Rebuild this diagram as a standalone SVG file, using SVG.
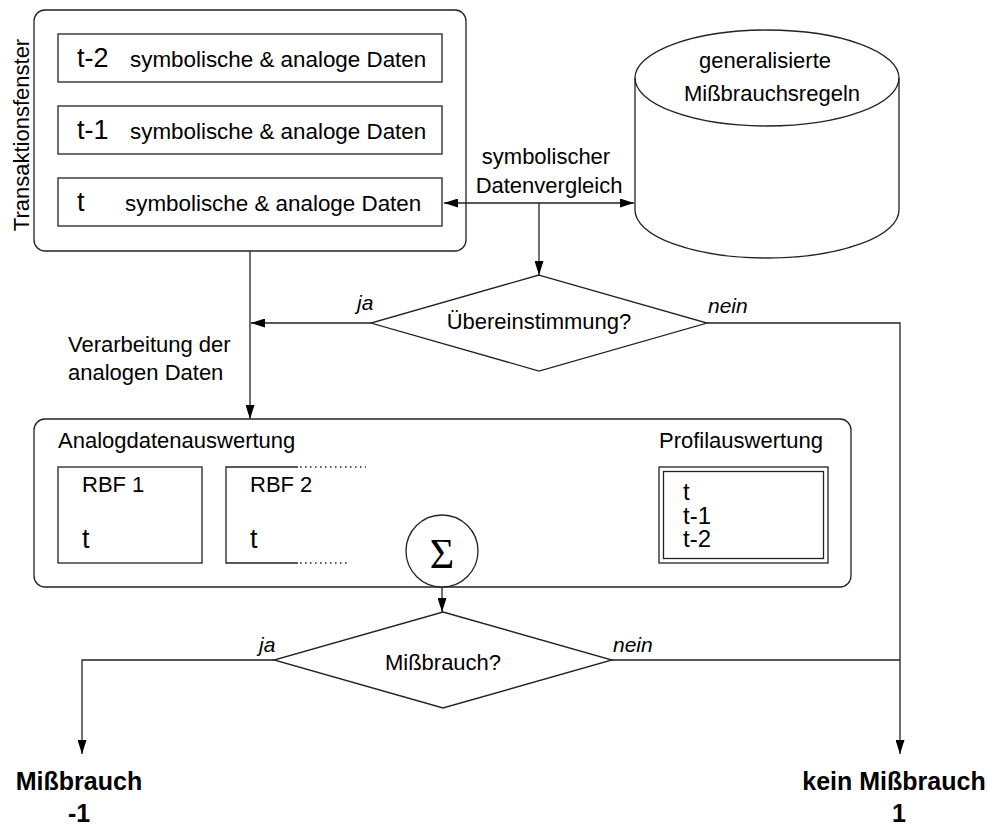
<svg xmlns="http://www.w3.org/2000/svg" width="988" height="828" viewBox="0 0 988 828">
  <style>
    .box { fill: none; stroke: #222; stroke-width: 1.3; }
    .line { fill: none; stroke: #222; stroke-width: 1.3; }
    .dot { fill: none; stroke: #222; stroke-width: 1.3; stroke-dasharray: 1.5 3.5; }
    .txt { font-family: "Liberation Sans", Arial, sans-serif; font-size: 22px; fill: #000; }
    .sym { font-family: "Liberation Sans", Arial, sans-serif; font-size: 22.4px; fill: #000; }
    .big { font-family: "Liberation Sans", Arial, sans-serif; font-size: 27px; fill: #000; }
    .prof { font-family: "Liberation Sans", Arial, sans-serif; font-size: 24px; fill: #000; }
    .lab { font-family: "Liberation Sans", Arial, sans-serif; font-size: 21px; font-style: italic; fill: #000; }
    .res { font-family: "Liberation Sans", Arial, sans-serif; font-size: 25px; font-weight: bold; fill: #000; }
    .mid { text-anchor: middle; }
  </style>
  <defs>
    <marker id="arrow" markerUnits="userSpaceOnUse" markerWidth="15" markerHeight="9" refX="14" refY="4.5" orient="auto">
      <path d="M0,0 L14,4.5 L0,9 Z" fill="#000"/>
    </marker>
  </defs>
  <rect width="988" height="828" fill="#fff"/>

  <!-- transaction window -->
  <g id="transaktionsfenster">
    <rect class="box" x="34" y="10" width="432" height="241" rx="11"/>
    <text class="txt mid" transform="translate(29,135) rotate(-90)">Transaktionsfenster</text>
    <rect class="box" x="58" y="34" width="384" height="48"/>
    <text class="big" x="77" y="67">t-2</text>
    <text class="sym" x="130" y="67">symbolische &amp; analoge Daten</text>
    <rect class="box" x="58" y="106" width="384" height="48"/>
    <text class="big" x="77" y="139">t-1</text>
    <text class="sym" x="130" y="139">symbolische &amp; analoge Daten</text>
    <rect class="box" x="58" y="178" width="384" height="48"/>
    <text class="big" x="77" y="211">t</text>
    <text class="sym" x="125" y="211">symbolische &amp; analoge Daten</text>
  </g>

  <!-- rule database -->
  <g id="regelbasis">
    <path class="box" d="M635,78 L635,210 A132,48 0 0 0 899,210 L899,78"/>
    <ellipse class="box" cx="767" cy="78" rx="132" ry="48"/>
    <text class="txt mid" x="765" y="68">generalisierte</text>
    <text class="txt mid" x="772" y="101">Mißbrauchsregeln</text>
  </g>

  <!-- first decision -->
  <g id="entscheidung1">
    <polygon class="box" points="539,275 707,323 539,371 371,323"/>
    <text class="txt mid" x="539" y="329">Übereinstimmung?</text>
  </g>

  <!-- analog data evaluation -->
  <g id="auswertung">
    <rect class="box" x="34" y="419" width="817" height="168" rx="11"/>
    <text class="txt" x="58" y="448">Analogdatenauswertung</text>
    <text class="txt" x="659" y="448">Profilauswertung</text>
  </g>
  <g id="rbf1">
    <rect class="box" x="58" y="467" width="144" height="96"/>
    <text class="txt" x="82" y="492">RBF 1</text>
    <text class="big" x="82" y="548">t</text>
  </g>
  <g id="rbf2">
    <path class="box" d="M298,467 L226,467 L226,563 L298,563"/>
    <path class="dot" d="M300,467 L366,467 M300,563 L347,563"/>
    <text class="txt" x="250" y="492">RBF 2</text>
    <text class="big" x="250" y="548">t</text>
  </g>
  <g id="profil">
    <rect class="box" x="659" y="467" width="169" height="96"/>
    <rect class="box" x="663.5" y="471.5" width="160" height="87"/>
    <text class="prof" x="683" y="500">t</text>
    <text class="prof" x="683" y="523.5">t-1</text>
    <text class="prof" x="683" y="547">t-2</text>
  </g>
  <g id="summe">
    <circle cx="442" cy="551" r="36" fill="#fff" stroke="#222" stroke-width="1.3"/>
    <text x="442" y="568" text-anchor="middle" font-family="Liberation Serif, Times New Roman, serif" font-size="42">Σ</text>
  </g>

  <!-- second decision -->
  <g id="entscheidung2">
    <polygon class="box" points="443,612 612,660 443,708 274,660"/>
    <text class="txt mid" x="443" y="670">Mißbrauch?</text>
  </g>

  <!-- results -->
  <g id="missbrauch">
    <text class="res mid" x="79" y="790">Mißbrauch</text>
    <text class="res mid" x="79" y="822">-1</text>
  </g>
  <g id="kein-missbrauch">
    <text class="res mid" x="894" y="790">kein Mißbrauch</text>
    <text class="res mid" x="899" y="822">1</text>
  </g>

  <!-- connectors -->
  <g id="verbindungen">
    <line class="line" x1="539" y1="203" x2="444" y2="203" marker-end="url(#arrow)"/>
    <line class="line" x1="539" y1="203" x2="634" y2="203" marker-end="url(#arrow)"/>
    <line class="line" x1="539" y1="203" x2="539" y2="275" marker-end="url(#arrow)"/>
    <line class="line" x1="250" y1="251" x2="250" y2="419" marker-end="url(#arrow)"/>
    <line class="line" x1="371" y1="323" x2="251" y2="323" marker-end="url(#arrow)"/>
    <polyline class="line" points="707,323 900,323 900,754" marker-end="url(#arrow)"/>
    <line class="line" x1="442" y1="587" x2="442" y2="612" marker-end="url(#arrow)"/>
    <polyline class="line" points="274,660 82,660 82,754" marker-end="url(#arrow)"/>
    <line class="line" x1="612" y1="660" x2="900" y2="660"/>
    <text class="txt mid" x="546" y="164">symbolischer</text>
    <text class="txt mid" x="549" y="193">Datenvergleich</text>
    <text class="txt" x="68" y="352">Verarbeitung der</text>
    <text class="txt" x="68" y="380">analogen Daten</text>
    <text class="lab" x="357" y="310">ja</text>
    <text class="lab" x="708" y="313">nein</text>
    <text class="lab" x="259" y="652">ja</text>
    <text class="lab" x="613" y="652">nein</text>
  </g>
</svg>
